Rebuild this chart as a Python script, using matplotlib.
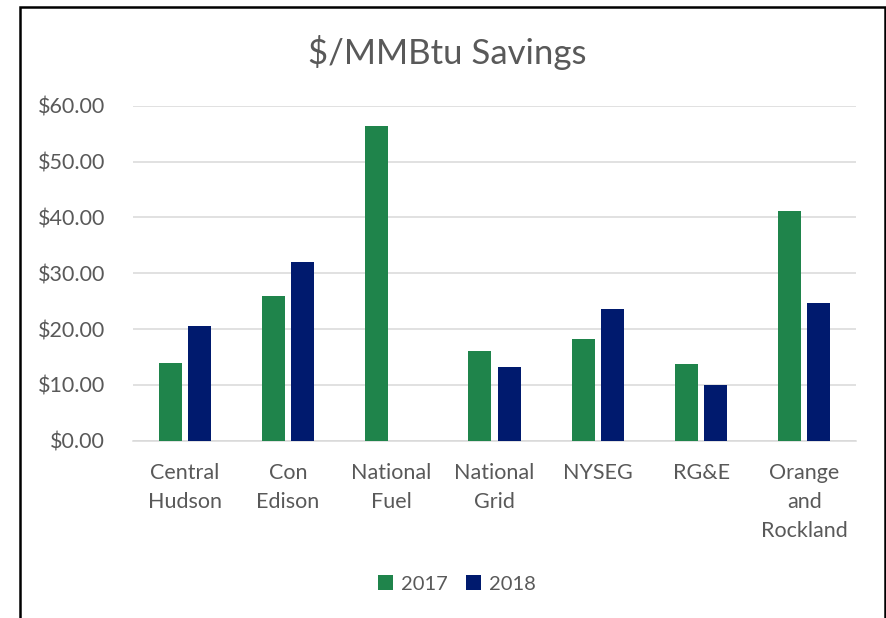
import matplotlib.pyplot as plt
import numpy as np
from matplotlib.patches import Rectangle

plt.rcParams['font.family'] = ['Lato', 'DejaVu Sans']

# data
companies = ['Central\nHudson', 'Con\nEdison', 'National\nFuel', 'National\nGrid',
             'NYSEG', 'RG&E', 'Orange\nand\nRockland']
savings_2017 = [14.0, 25.9, 56.4, 16.0, 18.2, 13.8, 41.1]
savings_2018 = [20.5, 32.0, 0.0, 13.2, 23.5, 9.9, 24.6]
yticks = [0, 10, 20, 30, 40, 50, 60]

green = '#1f844b'
navy = '#001a6e'
grey = '#595959'

fig = plt.figure(figsize=(8.87, 6.18), dpi=100)
ax = fig.add_axes([133/887, 1-440.7/618, (856-133)/887, (440.7-105.7)/618])

x = np.arange(len(companies))
w = 0.223
off = w/2 + 0.03
ax.bar(x - off, savings_2017, w, color=green, label='2017', zorder=3)
ax.bar(x + off, savings_2018, w, color=navy, label='2018', zorder=3)

ax.set_xlim(-0.5, len(companies) - 0.5)
ax.set_ylim(0, 60)
ax.set_yticks(yticks)
ax.set_yticklabels(['${:.2f}'.format(v) for v in yticks])
ax.set_xticks(x)
ax.set_xticklabels(companies, linespacing=1.55)
ax.yaxis.grid(True, color='#d9d9d9', linewidth=1.1, zorder=0)
ax.tick_params(axis='both', length=0, labelsize=15.5, labelcolor=grey)
ax.tick_params(axis='y', pad=20)
ax.tick_params(axis='x', pad=16)
for s in ['top', 'right', 'left']:
    ax.spines[s].set_visible(False)
ax.spines['bottom'].set_color('#d9d9d9')
ax.spines['bottom'].set_linewidth(1.1)

fig.text(447/887, 1-52/618, '$/MMBtu Savings', ha='center', va='center',
         fontsize=25, color=grey)

fig.legend(loc='center', bbox_to_anchor=(457/887, 1-584/618), ncol=2, frameon=False,
           fontsize=14.5, labelcolor=grey, handlelength=0.75, handleheight=0.75,
           handletextpad=0.4, columnspacing=0.9)

# chart border (left, top, right visible)
fig.patches.append(Rectangle((20/887, -0.1), (885-20)/887, 1.1 - 7/618,
                             transform=fig.transFigure, fill=False,
                             edgecolor='black', linewidth=1.8))

fig.savefig('out.png', dpi=100)
